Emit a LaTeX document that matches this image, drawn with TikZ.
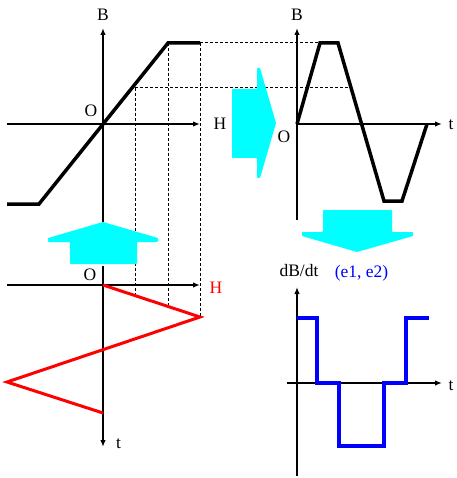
\documentclass[tikz,border=0pt]{standalone}
\usepackage{fontspec}
\setmainfont{Liberation Serif}
\usetikzlibrary{arrows.meta}
\definecolor{aqua}{RGB}{0,255,255}

\begin{document}
\begin{tikzpicture}[
    x=1pt, y=-1pt,
    font=\fontsize{17.5}{20}\selectfont,
    % 1. Axes and labels
    axis/.style={line width=1.5pt, -{Latex[length=7pt,width=5.5pt]}},
    lbl/.style={anchor=base, inner sep=0pt},
    % 2. Curves and guide lines
    bcurve/.style={line width=3.5pt},
    hcurve/.style={line width=3pt, draw=red},
    ecurve/.style={line width=3.5pt, draw=blue},
    guide/.style={line width=1pt, dash pattern=on 3pt off 2pt},
    % 3. Transition arrows
    bigarr/.style={fill=aqua, draw=none, rounded corners=0.8pt}
]
\useasboundingbox (0,0) rectangle (456,478);

% ===============================
% Guide lines (B-H curve -> B(t) and H(t))
% ===============================
\coordinate (satA) at (168,43);
\coordinate (satB) at (200,43);
\coordinate (midA) at (135,88);
\draw[guide] (satB) -- (320,43);
\draw[guide] (midA) -- (351,88);
\draw[guide] (midA) -- (135,296);
\draw[guide] (satA) -- (168,306);
\draw[guide] (satB) -- (200,317);

% ===============================
% Panel 1: B-H curve
% ===============================
\begin{scope}[shift={(103,124)}]
    \draw[axis] (-96,0) -- (97,0);
    \draw[axis] (0,106) -- (0,-96);
    \draw[bcurve] (-96,80) -- (-64,80) -- (65,-81) -- (97,-81);

    \node[lbl] (bhB) at (0,-103) {B};
    \node[lbl] (bhO) at (-12,-7) {O};
    \node[lbl] (bhH) at (117,6) {H};
\end{scope}

% ===============================
% Panel 2: B(t)
% ===============================
\begin{scope}[shift={(297,124)}]
    \draw[axis] (0,0) -- (145,0);
    \draw[axis] (0,96) -- (0,-96);
    \draw[bcurve] (0,0) -- (23,-81) -- (41,-81) -- (87,77) -- (105,77) -- (130,0);

    \node[lbl] (btB) at (0,-103) {B};
    \node[lbl] (btO) at (-13,19) {O};
    \node[lbl] (btT) at (154,6) {t};
\end{scope}

% ===============================
% Panel 3: H(t)
% ===============================
\begin{scope}[shift={(103,285)}]
    \draw[axis] (-96,0) -- (97,0);
    \draw[axis] (0,-19) -- (0,162);
    \draw[hcurve] (0,0) -- (97,32) -- (-96,97) -- (0,128);

    \node[lbl] (htO) at (-13,-5) {O};
    \node[lbl, text=red] (htH) at (113,8) {H};
    \node[lbl] (htT) at (15.5,163) {t};
\end{scope}

% ===============================
% Panel 4: dB/dt
% ===============================
\begin{scope}[shift={(297,383)}]
    \draw[axis] (-10,0) -- (145,0);
    \draw[axis] (0,93) -- (0,-96);
    \draw[ecurve] (0,-65) -- (20,-65) -- (20,0) -- (42,0) -- (42,63) -- (87,63)
        -- (87,0) -- (109,0) -- (109,-65) -- (132,-65);

    \node[lbl] (etD) at (2,-107) {dB/dt};
    \node[lbl, text=blue] (etE) at (64.5,-106) {(e1, e2)};
    \node[lbl] (etT) at (154,7) {t};
\end{scope}

% ===============================
% Transition arrows
% ===============================
\fill[bigarr] (103,222) -- (158,238) -- (158,242) -- (137,242) -- (137,264)
    -- (70,264) -- (70,242) -- (48,242) -- (48,238) -- cycle;
\fill[bigarr] (232,89) -- (257,89) -- (257,68) -- (260,68) -- (276,123)
    -- (260,178) -- (257,178) -- (257,158) -- (232,158) -- cycle;
\fill[bigarr] (323,210) -- (392,210) -- (392,232) -- (413,232) -- (413,236)
    -- (357,252) -- (302,236) -- (302,232) -- (323,232) -- cycle;

\end{tikzpicture}
\end{document}
